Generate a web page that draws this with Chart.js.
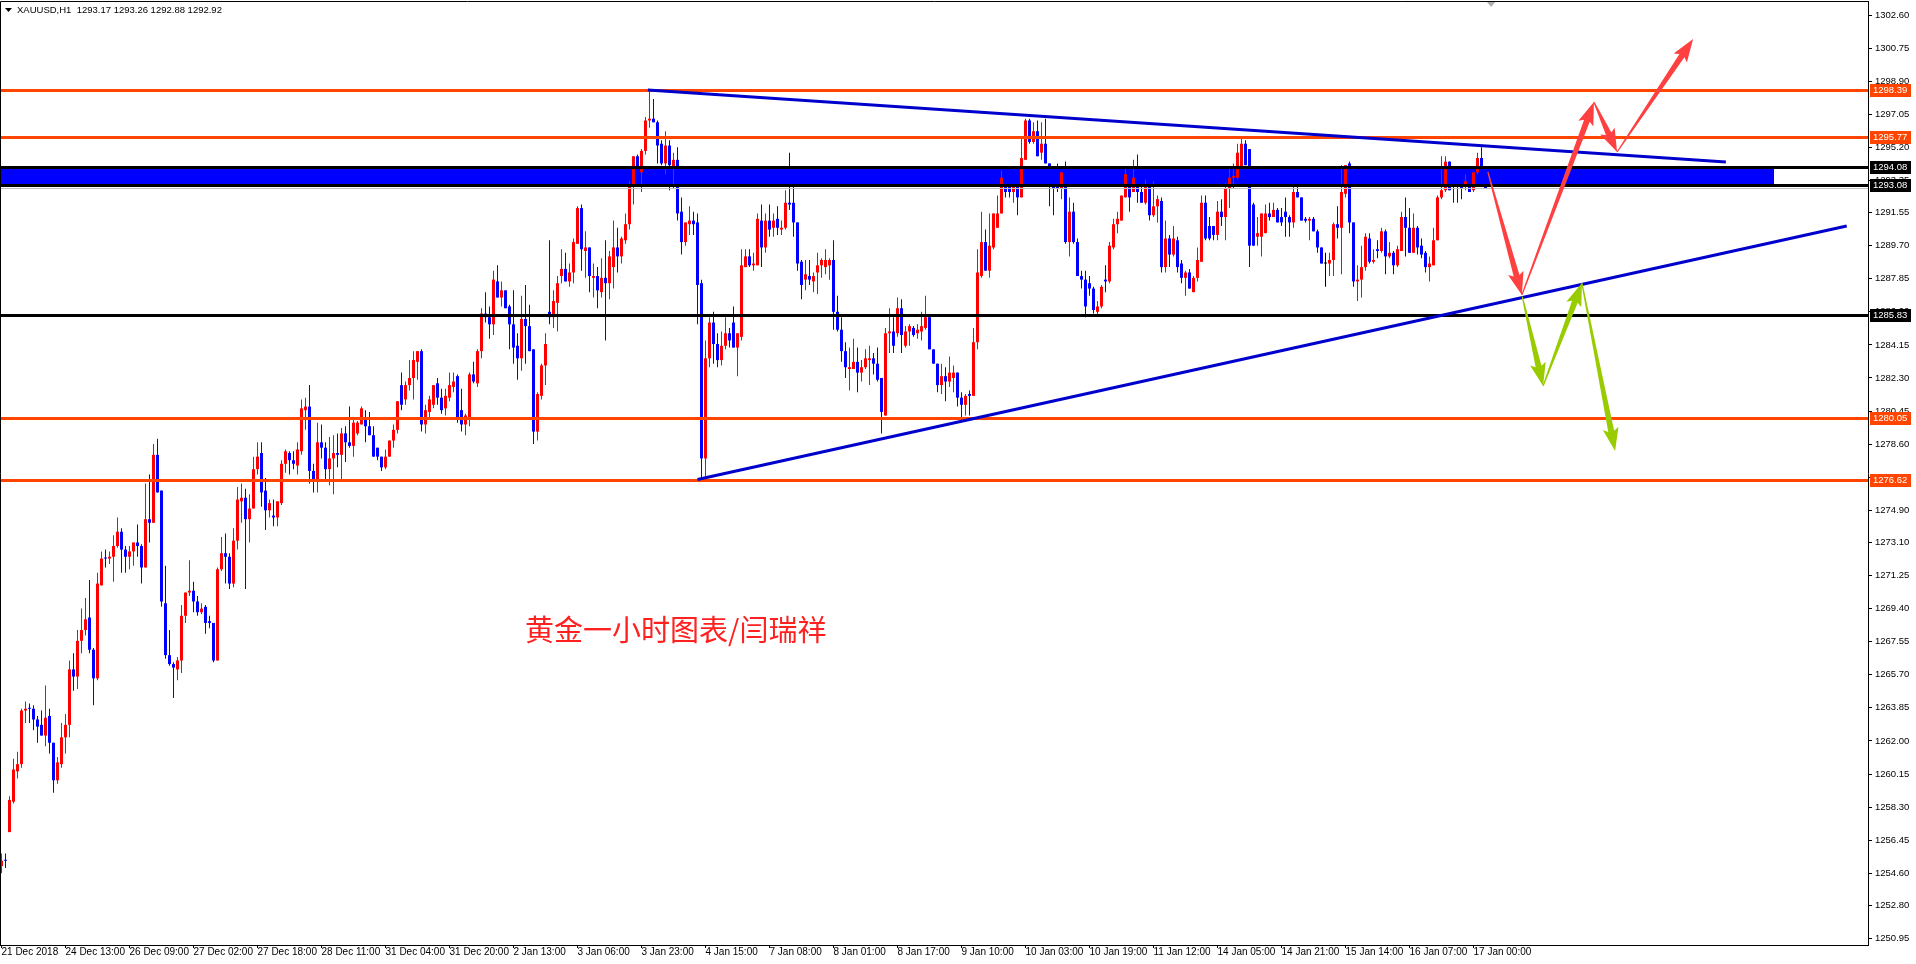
<!DOCTYPE html>
<html>
<head>
<meta charset="utf-8">
<script src="https://cdn.jsdelivr.net/npm/chart.js@4.4.1/dist/chart.umd.min.js"></script>
<style>
  html, body { margin: 0; padding: 0; background: #fff; }
  #chart { display: block; }
</style>
</head>
<body>
<canvas id="chart" width="1916" height="964"></canvas>
<script>
// XAUUSD H1, 21 Dec 2018 - 17 Jan 2019
const symbolInfo = "XAUUSD,H1  1293.17 1293.26 1292.88 1292.92";

const timeLabels = [
  "21 Dec 2018", "24 Dec 13:00", "26 Dec 09:00", "27 Dec 02:00", "27 Dec 18:00",
  "28 Dec 11:00", "31 Dec 04:00", "31 Dec 20:00", "2 Jan 13:00", "3 Jan 06:00",
  "3 Jan 23:00", "4 Jan 15:00", "7 Jan 08:00", "8 Jan 01:00", "8 Jan 17:00",
  "9 Jan 10:00", "10 Jan 03:00", "10 Jan 19:00", "11 Jan 12:00", "14 Jan 05:00",
  "14 Jan 21:00", "15 Jan 14:00", "16 Jan 07:00", "17 Jan 00:00"
];
const barsPerLabel = 16;

const priceTicks = [
  1302.60, 1300.75, 1298.90, 1297.05, 1295.20, 1293.35, 1291.55, 1289.70, 1287.85, 1286.00,
  1284.15, 1282.30, 1280.45, 1278.60, 1276.75, 1274.90, 1273.10, 1271.25, 1269.40, 1267.55,
  1265.70, 1263.85, 1262.00, 1260.15, 1258.30, 1256.45, 1254.60, 1252.80, 1250.95
];

// [open, high, low, close] per hourly bar
const candles = [
  [1255.0,1255.7,1254.6,1255.3],[1255.35,1255.7,1254.9,1255.3],[1256.9,1258.9,1256.9,1258.7],[1258.6,1261.0,1258.5,1260.4],[1260.3,1261.4,1259.9,1260.7],
  [1260.7,1263.8,1260.5,1263.7],[1263.7,1264.2,1263.0,1263.8],[1263.85,1264.1,1263.0,1263.8],[1263.8,1264.0,1262.6,1263.2],[1263.2,1263.4,1261.9,1262.8],
  [1262.9,1263.7,1262.3,1262.3],[1262.3,1265.1,1261.7,1263.3],[1263.4,1263.8,1261.3,1261.9],[1261.9,1261.9,1259.1,1259.8],[1259.8,1261.1,1259.6,1260.8],
  [1260.7,1263.0,1260.5,1262.2],[1262.2,1263.5,1261.3,1262.9],[1262.9,1266.5,1262.2,1266.0],[1266.0,1266.9,1264.8,1265.6],[1265.6,1268.2,1264.9,1267.6],
  [1267.6,1269.4,1266.9,1268.2],[1268.2,1270.0,1267.9,1268.8],[1268.9,1271.0,1266.9,1267.1],[1267.1,1267.2,1264.0,1265.5],[1265.5,1271.4,1265.4,1270.8],
  [1270.7,1272.6,1270.7,1272.2],[1272.25,1272.7,1271.7,1272.2],[1272.2,1272.6,1271.9,1272.3],[1272.3,1273.5,1270.9,1272.9],[1272.9,1274.5,1272.8,1273.7],
  [1273.7,1273.9,1271.4,1272.7],[1272.7,1272.9,1271.4,1272.3],[1272.3,1272.9,1271.6,1272.6],[1272.6,1273.1,1271.8,1273.1],[1273.1,1274.1,1272.3,1272.9],
  [1272.9,1273.0,1270.8,1271.7],[1271.7,1276.4,1271.7,1274.4],[1274.4,1276.9,1273.1,1274.2],[1274.2,1278.6,1274.2,1278.0],[1278.0,1278.9,1275.9,1275.9],
  [1276.0,1276.0,1269.5,1269.8],[1269.7,1271.8,1266.6,1266.8],[1266.8,1268.2,1266.2,1266.3],[1266.3,1266.4,1264.4,1266.1],[1266.0,1266.7,1265.4,1266.5],
  [1266.5,1269.6,1265.8,1269.0],[1269.0,1270.3,1268.6,1270.3],[1270.3,1272.1,1270.1,1270.4],[1270.4,1270.9,1269.2,1269.8],[1269.8,1270.1,1269.0,1269.2],
  [1269.2,1269.7,1269.1,1269.4],[1269.5,1269.6,1268.0,1268.6],[1268.7,1269.0,1268.3,1268.6],[1268.6,1268.6,1266.4,1266.5],[1266.5,1271.7,1266.5,1271.6],
  [1271.6,1273.4,1271.5,1272.5],[1272.5,1273.6,1270.8,1272.3],[1272.3,1272.5,1270.5,1270.8],[1270.8,1273.9,1270.6,1273.2],[1273.2,1276.2,1272.7,1275.5],
  [1275.4,1276.4,1274.2,1275.6],[1275.6,1276.1,1270.5,1274.4],[1274.4,1275.8,1273.1,1275.0],[1275.0,1277.9,1275.0,1277.2],[1277.2,1278.7,1276.9,1277.9],
  [1278.1,1278.7,1275.1,1275.9],[1276.0,1276.7,1273.8,1274.9],[1274.9,1275.5,1274.5,1275.3],[1274.6,1275.5,1274.0,1274.5],[1274.5,1275.4,1274.0,1275.4],
  [1275.3,1277.7,1275.2,1277.5],[1277.5,1278.3,1277.0,1278.2],[1278.1,1278.2,1276.9,1277.7],[1277.7,1278.2,1277.2,1277.5],[1277.4,1278.7,1276.9,1278.3],
  [1278.2,1281.1,1278.0,1280.6],[1280.5,1281.2,1279.4,1280.7],[1280.7,1281.9,1276.4,1277.1],[1277.1,1277.5,1275.9,1276.6],[1276.6,1279.8,1275.9,1278.7],
  [1278.7,1279.7,1277.8,1278.4],[1278.4,1278.7,1276.6,1277.2],[1277.2,1279.0,1276.3,1277.8],[1277.8,1279.1,1275.8,1278.1],[1278.1,1279.2,1277.3,1278.0],
  [1278.0,1279.5,1276.6,1279.2],[1279.2,1279.6,1277.6,1278.7],[1278.7,1280.7,1278.4,1278.5],[1278.5,1280.1,1277.9,1279.8],[1279.2,1279.9,1279.1,1279.8],
  [1279.7,1280.7,1279.7,1280.6],[1280.1,1280.5,1278.7,1279.6],[1279.6,1280.4,1279.1,1279.1],[1279.1,1279.6,1277.9,1277.9],[1278.4,1278.4,1277.7,1277.9],
  [1277.9,1277.9,1277.1,1277.3],[1277.3,1278.3,1277.2,1277.9],[1277.9,1278.8,1277.9,1278.8],[1278.8,1279.7,1278.4,1279.4],[1279.4,1281.0,1279.2,1281.0],
  [1281.9,1282.6,1280.5,1280.8],[1281.1,1282.1,1280.8,1281.9],[1281.9,1283.3,1281.6,1282.3],[1282.3,1283.8,1281.1,1283.3],[1283.2,1283.8,1282.2,1283.8],
  [1283.8,1283.9,1279.3,1279.7],[1279.7,1280.8,1279.2,1280.5],[1280.4,1281.3,1280.0,1281.1],[1280.8,1281.9,1280.6,1281.9],[1282.0,1282.3,1280.8,1281.2],
  [1281.2,1281.7,1280.3,1280.5],[1280.6,1281.7,1280.2,1281.3],[1281.2,1282.6,1281.0,1281.9],[1281.8,1282.6,1281.5,1282.1],[1282.4,1282.5,1279.8,1280.1],
  [1280.5,1281.7,1279.3,1279.7],[1279.7,1280.3,1279.1,1280.2],[1280.0,1282.6,1279.6,1282.5],[1282.5,1283.2,1282.0,1282.1],[1282.0,1283.9,1281.8,1283.8],
  [1283.8,1286.2,1283.4,1285.9],[1285.9,1287.1,1285.4,1285.7],[1285.7,1286.3,1284.5,1285.3],[1285.3,1288.3,1284.7,1287.8],[1287.7,1288.6,1286.8,1286.8],
  [1286.8,1287.7,1286.3,1287.2],[1287.2,1287.2,1286.2,1286.2],[1286.3,1286.4,1283.9,1285.3],[1285.3,1287.2,1283.1,1284.0],[1284.1,1284.8,1282.2,1283.4],
  [1283.4,1286.9,1282.7,1285.6],[1285.6,1287.5,1283.1,1285.2],[1285.2,1286.4,1283.8,1283.8],[1283.9,1283.9,1278.6,1279.3],[1279.3,1281.5,1278.8,1281.4],
  [1281.3,1283.1,1281.1,1283.0],[1283.0,1284.8,1281.9,1284.2],[1286.0,1290.0,1285.3,1285.7],[1285.7,1287.2,1285.1,1286.6],[1286.5,1288.0,1284.9,1287.6],
  [1288.0,1289.5,1287.6,1288.4],[1288.4,1289.3,1287.7,1287.7],[1287.7,1288.7,1287.4,1288.2],[1288.2,1290.1,1287.6,1289.9],[1289.8,1291.9,1289.8,1291.8],
  [1291.8,1292.0,1288.3,1289.5],[1289.4,1290.5,1287.9,1289.6],[1289.6,1289.6,1287.1,1288.0],[1287.9,1288.7,1286.8,1288.0],[1288.0,1288.5,1286.2,1287.2],
  [1287.1,1289.0,1286.8,1287.9],[1287.9,1290.0,1284.4,1287.6],[1287.6,1289.4,1286.7,1289.1],[1288.5,1291.1,1287.3,1289.6],[1289.6,1290.7,1288.2,1289.1],
  [1289.1,1290.2,1288.7,1290.1],[1290.0,1291.5,1289.8,1290.9],[1290.9,1293.3,1290.6,1293.1],[1293.1,1294.7,1292.0,1294.7],[1294.7,1294.8,1293.5,1293.9],
  [1293.8,1295.1,1292.7,1295.0],[1295.0,1296.9,1294.8,1296.7],[1296.7,1298.3,1296.3,1296.8],[1296.8,1297.9,1296.6,1296.6],[1296.6,1296.7,1294.3,1295.3],
  [1295.4,1295.6,1294.2,1294.3],[1294.3,1296.1,1293.7,1295.3],[1295.3,1295.6,1292.8,1294.2],[1294.1,1294.9,1292.9,1294.5],[1294.5,1295.2,1291.1,1291.5],
  [1291.6,1292.4,1289.2,1289.9],[1289.9,1291.0,1289.7,1291.0],[1290.9,1291.9,1290.3,1291.1],[1291.1,1291.6,1290.3,1290.9],[1291.0,1291.5,1285.3,1287.5],
  [1287.6,1287.8,1276.7,1277.8],[1277.8,1284.4,1276.8,1283.4],[1283.4,1285.7,1282.9,1285.4],[1285.4,1286.0,1283.1,1284.2],[1284.2,1284.8,1282.9,1283.3],
  [1283.3,1284.9,1283.0,1284.1],[1284.1,1285.7,1283.9,1284.8],[1284.8,1285.1,1284.0,1284.4],[1285.4,1286.3,1284.0,1284.0],[1284.0,1284.8,1282.4,1284.8],
  [1284.6,1289.5,1284.4,1288.6],[1288.5,1289.5,1288.5,1289.1],[1289.1,1289.5,1288.5,1288.6],[1288.6,1289.3,1288.3,1288.7],[1288.6,1291.5,1288.6,1291.2],
  [1291.1,1292.0,1288.5,1289.6],[1289.6,1291.5,1289.3,1291.1],[1291.1,1292.0,1290.2,1290.6],[1290.7,1291.5,1290.2,1291.1],[1291.2,1291.9,1290.3,1290.7],
  [1290.6,1291.1,1290.3,1290.7],[1290.7,1292.8,1290.6,1292.1],[1292.1,1294.9,1291.7,1292.0],[1292.1,1293.0,1290.2,1291.0],[1291.0,1291.0,1288.3,1288.7],
  [1288.8,1288.9,1286.7,1287.5],[1287.8,1288.9,1287.2,1288.1],[1288.0,1288.9,1287.5,1287.8],[1287.7,1288.2,1287.1,1288.0],[1288.2,1289.3,1287.0,1288.6],
  [1288.6,1289.0,1287.9,1288.9],[1288.5,1289.5,1288.1,1288.9],[1288.6,1289.0,1287.8,1288.9],[1288.9,1290.0,1285.0,1286.0],[1286.0,1286.9,1284.9,1285.0],
  [1285.0,1285.7,1283.2,1283.8],[1283.8,1284.3,1282.3,1282.9],[1282.8,1284.0,1281.6,1282.9],[1282.8,1284.5,1282.8,1283.2],[1283.2,1284.0,1281.5,1282.6],
  [1282.6,1283.3,1282.1,1282.9],[1282.9,1283.9,1282.8,1283.4],[1283.3,1284.1,1281.9,1283.4],[1283.4,1283.7,1282.5,1283.1],[1283.1,1284.0,1282.1,1282.2],
  [1282.3,1282.3,1279.2,1280.4],[1280.2,1285.1,1280.2,1284.8],[1284.8,1286.2,1283.7,1284.9],[1284.9,1285.7,1283.7,1284.1],[1284.8,1286.8,1284.6,1286.2],
  [1286.2,1286.7,1283.7,1284.7],[1284.1,1285.2,1284.0,1284.9],[1284.9,1285.3,1284.1,1285.2],[1285.1,1285.2,1284.6,1284.7],[1284.8,1285.3,1284.5,1285.0],
  [1284.9,1286.0,1284.4,1285.2],[1285.1,1286.9,1285.0,1285.7],[1285.7,1285.8,1283.9,1283.9],[1283.9,1283.9,1283.1,1283.1],[1283.1,1283.1,1281.5,1281.9],
  [1281.9,1283.1,1281.4,1282.4],[1282.4,1282.9,1281.0,1282.1],[1282.1,1283.5,1281.8,1282.6],[1282.3,1283.0,1281.5,1282.6],[1282.6,1282.6,1280.7,1281.2],
  [1281.2,1281.5,1280.1,1280.8],[1280.8,1281.4,1280.2,1281.3],[1281.4,1281.6,1280.2,1281.3],[1281.3,1285.1,1281.3,1284.3],[1284.3,1289.5,1283.9,1288.2],
  [1288.0,1291.6,1287.9,1289.9],[1289.9,1290.6,1288.3,1288.3],[1288.3,1291.5,1287.9,1289.7],[1289.6,1291.5,1289.5,1291.5],[1290.7,1292.5,1290.7,1291.5],
  [1291.5,1293.9,1291.5,1293.5],[1293.0,1293.2,1292.4,1292.7],[1293.0,1293.1,1292.4,1292.7],[1292.7,1293.1,1292.1,1293.0],[1293.0,1293.1,1291.4,1292.4],
  [1292.4,1295.8,1292.4,1294.6],[1294.5,1296.8,1294.5,1296.7],[1296.7,1296.8,1295.4,1295.5],[1295.5,1296.6,1295.4,1296.1],[1296.1,1296.7,1294.7,1294.7],
  [1294.9,1296.6,1294.5,1295.4],[1295.4,1296.8,1294.3,1294.3],[1294.3,1294.3,1291.9,1293.0],[1293.0,1293.5,1291.4,1292.9],[1293.0,1294.3,1292.7,1292.9],
  [1292.9,1293.8,1292.3,1293.8],[1293.8,1294.4,1289.8,1289.9],[1289.9,1292.4,1289.1,1291.6],[1291.6,1292.1,1289.8,1289.9],[1289.9,1290.1,1288.0,1288.0],
  [1288.0,1288.3,1287.3,1287.8],[1287.8,1288.3,1285.7,1286.3],[1287.6,1288.0,1286.9,1287.3],[1287.3,1287.4,1285.9,1286.1],[1286.0,1286.6,1285.8,1286.3],
  [1286.3,1287.5,1286.2,1287.4],[1287.8,1288.6,1287.1,1287.7],[1287.7,1289.9,1287.6,1289.7],[1289.6,1291.2,1289.5,1290.9],[1290.9,1291.6,1290.4,1291.2],
  [1291.1,1292.5,1291.1,1292.5],[1292.4,1294.0,1292.4,1293.7],[1293.0,1294.0,1291.6,1292.4],[1292.7,1294.5,1292.7,1293.5],[1293.0,1294.8,1292.1,1292.7],
  [1292.7,1293.4,1292.1,1292.1],[1292.1,1293.4,1292.0,1293.0],[1293.0,1293.2,1291.1,1291.4],[1291.4,1293.3,1291.3,1291.9],[1291.9,1292.5,1291.0,1292.3],
  [1292.2,1292.4,1288.2,1288.5],[1288.5,1291.1,1288.2,1290.1],[1290.1,1290.3,1288.5,1289.2],[1289.2,1290.8,1289.1,1290.1],[1290.0,1290.2,1288.2,1288.5],
  [1288.7,1288.9,1287.6,1287.9],[1287.9,1288.3,1286.9,1288.2],[1288.2,1288.4,1287.3,1287.3],[1287.1,1288.0,1287.1,1287.9],[1287.9,1289.6,1287.7,1288.9],
  [1288.8,1292.5,1288.8,1292.1],[1292.1,1292.5,1290.0,1290.1],[1290.8,1291.3,1290.0,1290.1],[1290.8,1290.8,1290.0,1290.3],[1290.3,1292.2,1290.0,1291.6],
  [1291.6,1292.3,1290.8,1291.3],[1291.3,1293.2,1290.0,1292.9],[1292.9,1294.0,1291.8,1293.5],[1293.5,1294.3,1292.9,1293.6],[1293.5,1295.4,1293.4,1294.9],
  [1294.0,1295.7,1294.0,1295.4],[1295.4,1295.6,1294.2,1294.2],[1295.1,1295.1,1288.5,1289.7],[1292.0,1292.1,1289.7,1289.7],[1290.2,1291.3,1289.7,1290.4],
  [1290.2,1291.5,1289.1,1291.5],[1290.4,1292.0,1290.4,1291.5],[1291.5,1292.1,1291.1,1291.3],[1291.3,1292.1,1291.3,1291.7],[1291.7,1291.8,1291.0,1291.0],
  [1291.3,1291.8,1290.8,1291.0],[1291.6,1292.4,1290.2,1291.3],[1291.3,1291.4,1290.2,1291.0],[1291.0,1293.0,1290.7,1292.7],[1292.7,1293.0,1292.4,1292.4],
  [1292.4,1292.4,1291.1,1291.1],[1291.2,1291.3,1291.0,1291.1],[1291.1,1291.3,1290.0,1291.2],[1291.2,1291.3,1290.5,1290.5],[1290.5,1290.6,1289.3,1289.6],
  [1289.6,1289.6,1288.7,1288.7],[1288.7,1289.3,1287.4,1288.7],[1288.7,1289.3,1288.0,1288.9],[1288.9,1291.0,1288.0,1290.9],[1290.9,1291.9,1290.1,1290.7],
  [1290.7,1294.2,1288.1,1292.7],[1292.6,1294.2,1292.4,1294.2],[1294.3,1294.4,1290.4,1291.0],[1291.0,1291.0,1287.4,1287.7],[1287.7,1288.6,1286.6,1287.8],
  [1287.8,1289.7,1286.8,1288.5],[1288.5,1290.4,1288.3,1290.2],[1290.1,1290.4,1288.7,1288.8],[1288.8,1289.5,1288.7,1288.9],[1289.5,1290.0,1289.0,1289.4],
  [1289.4,1290.7,1289.3,1290.5],[1290.5,1290.6,1288.1,1289.1],[1289.1,1289.9,1289.0,1289.3],[1289.3,1289.4,1288.1,1288.6],[1288.6,1289.7,1288.5,1289.5],
  [1289.4,1291.6,1289.4,1291.3],[1291.3,1292.4,1289.1,1290.7],[1290.7,1291.8,1289.3,1289.3],[1289.3,1291.5,1289.3,1290.7],[1290.7,1290.8,1289.2,1289.6],
  [1289.7,1290.1,1289.0,1289.2],[1289.3,1289.4,1288.2,1288.5],[1288.5,1289.1,1287.7,1288.7],[1288.6,1290.7,1288.6,1290.0],[1290.0,1292.5,1290.0,1292.4],
  [1292.4,1294.7,1292.3,1292.8],[1292.8,1294.7,1292.7,1294.4],[1294.4,1294.4,1292.8,1292.8],[1293.2,1293.3,1292.1,1293.1],[1293.1,1293.9,1292.1,1293.0],
  [1293.0,1293.8,1292.3,1292.9],[1293.0,1293.7,1292.8,1293.3],[1293.3,1293.7,1292.7,1292.7],[1292.8,1293.8,1292.7,1293.8],[1293.8,1294.9,1293.7,1294.6],
  [1294.6,1295.2,1293.7,1293.8],[1293.17,1293.26,1292.88,1292.92]
];

// chart objects drawn on top (price levels, trend lines, arrows)
const orangeLevels = [1298.39, 1295.77, 1280.05, 1276.62];
const blackLevels = [1294.08, 1293.08, 1285.83];
const bidPrice = 1292.92;
const zonePrices = [1293.08, 1294.08];
const zoneEndBar = 443;
const upperTrend = [[161.6, 1298.41], [431.1, 1294.38]];
const lowerTrend = [[174.0, 1276.62], [461.3, 1290.80]];
const redArrows = [
  [[371.6, 1293.82], [380.1, 1286.94]],
  [[380.1, 1286.94], [398.1, 1297.73]],
  [[398.1, 1297.73], [403.9, 1294.94]],
  [[403.9, 1294.94], [422.9, 1301.26]]
];
const greenArrows = [
  [[380.2, 1286.85], [385.4, 1281.85]],
  [[385.4, 1281.85], [395.1, 1287.61]],
  [[395.1, 1287.61], [403.4, 1278.22]]
];
const caption = "黄金一小时图表/闫瑞祥";
const captionAt = [130.9, 1268.2];
const shiftMarkBar = 372.4;

const bullColor = "#ff0000";
const bearColor = "#0000ff";
const orange = "#ff4500";
const uiFont = '"Liberation Sans", Arial, sans-serif';

function candleColor(c) {
  if (c[3] > c[0]) return bullColor;
  if (c[3] < c[0]) return bearColor;
  return "#000000";
}

function drawArrow(ctx, x0, y0, x1, y1, color) {
  const dx = x1 - x0, dy = y1 - y0, len = Math.hypot(dx, dy);
  const ux = dx / len, uy = dy / len, nx = -uy, ny = ux;
  const headLen = 20, headHalf = 8, shaftEnd = 3, shaftStart = 0.6;
  const bx = x1 - ux * headLen, by = y1 - uy * headLen;
  ctx.fillStyle = color;
  ctx.beginPath();
  ctx.moveTo(x0 + nx * shaftStart, y0 + ny * shaftStart);
  ctx.lineTo(bx + nx * shaftEnd, by + ny * shaftEnd);
  ctx.lineTo(bx + nx * headHalf - ux * 3, by + ny * headHalf - uy * 3);
  ctx.lineTo(x1, y1);
  ctx.lineTo(bx - nx * headHalf - ux * 3, by - ny * headHalf - uy * 3);
  ctx.lineTo(bx - nx * shaftEnd, by - ny * shaftEnd);
  ctx.lineTo(x0 - nx * shaftStart, y0 - ny * shaftStart);
  ctx.closePath();
  ctx.fill();
}

const overlays = {
  id: "overlays",
  beforeDatasetsDraw(chart) {
    const { ctx, chartArea: a, scales: { x, y } } = chart;
    ctx.save();
    const yTop = Math.round(y.getPixelForValue(zonePrices[1]));
    const yBot = Math.round(y.getPixelForValue(zonePrices[0]));
    ctx.fillStyle = "#0000ff";
    ctx.fillRect(a.left, yTop, Math.round(x.getPixelForValue(zoneEndBar)) - a.left, yBot - yTop);
    ctx.restore();
  },
  afterDatasetsDraw(chart) {
    const { ctx, chartArea: a, scales: { x, y } } = chart;
    ctx.save();
    ctx.beginPath();
    ctx.rect(a.left, a.top, a.width, a.height);
    ctx.clip();

    // bid line
    ctx.strokeStyle = "#c0c0c0";
    ctx.lineWidth = 1;
    let py = Math.round(y.getPixelForValue(bidPrice)) + 0.5;
    ctx.beginPath(); ctx.moveTo(a.left, py); ctx.lineTo(a.right, py); ctx.stroke();

    // horizontal levels
    ctx.lineWidth = 3;
    orangeLevels.forEach(v => {
      py = Math.round(y.getPixelForValue(v)) + 0.5;
      ctx.strokeStyle = orange;
      ctx.beginPath(); ctx.moveTo(a.left, py); ctx.lineTo(a.right, py); ctx.stroke();
    });
    blackLevels.forEach(v => {
      py = Math.round(y.getPixelForValue(v)) + 0.5;
      ctx.strokeStyle = "#000000";
      ctx.beginPath(); ctx.moveTo(a.left, py); ctx.lineTo(a.right, py); ctx.stroke();
    });

    // trend lines
    ctx.strokeStyle = "#0000cd";
    ctx.lineWidth = 3;
    [upperTrend, lowerTrend].forEach(t => {
      ctx.beginPath();
      ctx.moveTo(x.getPixelForValue(t[0][0]), y.getPixelForValue(t[0][1]));
      ctx.lineTo(x.getPixelForValue(t[1][0]), y.getPixelForValue(t[1][1]));
      ctx.stroke();
    });

    // arrows
    const arrow = (seg, color) => drawArrow(ctx,
      x.getPixelForValue(seg[0][0]), y.getPixelForValue(seg[0][1]),
      x.getPixelForValue(seg[1][0]), y.getPixelForValue(seg[1][1]), color);
    redArrows.forEach(s => arrow(s, "#ff4040"));
    greenArrows.forEach(s => arrow(s, "#99cc00"));

    // caption
    ctx.fillStyle = "#ff2020";
    ctx.font = '29px "Noto Sans CJK SC", sans-serif';
    ctx.textBaseline = "middle";
    ctx.textAlign = "left";
    ctx.fillText(caption, x.getPixelForValue(captionAt[0]), y.getPixelForValue(captionAt[1]));

    // chart shift marker
    const mx = x.getPixelForValue(shiftMarkBar);
    ctx.fillStyle = "#b0b0b0";
    ctx.beginPath();
    ctx.moveTo(mx - 5, a.top); ctx.lineTo(mx + 5, a.top); ctx.lineTo(mx, a.top + 6);
    ctx.closePath(); ctx.fill();
    ctx.restore();
  },
  afterDraw(chart) {
    const { ctx, chartArea: a, scales: { y } } = chart;
    ctx.save();
    // frame
    ctx.strokeStyle = "#000";
    ctx.lineWidth = 1;
    ctx.beginPath();
    ctx.moveTo(a.left + 0.5, a.bottom); ctx.lineTo(a.left + 0.5, a.top + 0.5); ctx.lineTo(a.right, a.top + 0.5);
    ctx.stroke();

    // price boxes on the axis
    ctx.font = "9.5px " + uiFont;
    ctx.textBaseline = "middle";
    ctx.textAlign = "left";
    const box = (v, bg) => {
      const py = Math.round(y.getPixelForValue(v));
      ctx.fillStyle = bg;
      ctx.fillRect(a.right + 2, py - 6, 41, 13);
      ctx.fillStyle = "#fff";
      ctx.fillText(v.toFixed(2), a.right + 5, py + 0.5);
    };
    orangeLevels.forEach(v => box(v, orange));
    blackLevels.forEach(v => box(v, "#000"));

    // header
    ctx.fillStyle = "#000";
    ctx.beginPath();
    ctx.moveTo(5, 8); ctx.lineTo(12, 8); ctx.lineTo(8.5, 12); ctx.closePath(); ctx.fill();
    ctx.font = "9.5px " + uiFont;
    ctx.fillText(symbolInfo, 17, 10.5);
    ctx.restore();
  }
};

new Chart(document.getElementById("chart"), {
  type: "bar",
  data: {
    datasets: [
      {
        label: "range",
        data: candles.map((c, i) => ({ x: i, y: [c[2], c[1]] })),
        backgroundColor: candles.map(candleColor),
        barThickness: 1,
        grouped: false,
        borderWidth: 0,
        inflateAmount: 0,
        minBarLength: 1
      },
      {
        label: "body",
        data: candles.map((c, i) => ({ x: i, y: [c[0], c[3]] })),
        backgroundColor: candles.map(candleColor),
        barThickness: 3,
        grouped: false,
        borderWidth: 0,
        inflateAmount: 0,
        minBarLength: 1
      }
    ]
  },
  options: {
    responsive: false,
    animation: false,
    devicePixelRatio: 1,
    events: [],
    layout: { padding: { top: 1, left: 0, right: 0, bottom: 0 } },
    plugins: { legend: { display: false }, tooltip: { enabled: false } },
    scales: {
      x: {
        type: "linear",
        offset: false,
        min: -0.375,
        max: 466.625,
        afterBuildTicks: s => { s.ticks = timeLabels.map((_, k) => ({ value: k * barsPerLabel })); },
        afterFit: s => { s.height = 19; s.paddingLeft = 0; s.paddingRight = 0; },
        ticks: {
          autoSkip: false, maxRotation: 0, align: "start", padding: -2,
          color: "#000", font: { family: uiFont, size: 10 },
          callback: (v, i) => timeLabels[i]
        },
        grid: { offset: false, drawOnChartArea: false, drawTicks: true, tickLength: 3, color: "#000" },
        border: { display: true, color: "#000" }
      },
      y: {
        position: "right",
        min: 1250.587,
        max: 1303.383,
        afterBuildTicks: s => { s.ticks = priceTicks.map(v => ({ value: v })); },
        afterFit: s => { s.width = 48; s.paddingTop = 0; s.paddingBottom = 0; },
        ticks: {
          autoSkip: false, padding: 3,
          color: "#000", font: { family: uiFont, size: 9.5 },
          callback: (v, i) => priceTicks[i].toFixed(2)
        },
        grid: { drawOnChartArea: false, drawTicks: true, tickLength: 4, color: "#000" },
        border: { display: true, color: "#000" }
      }
    }
  },
  plugins: [overlays]
});
</script>
</body>
</html>
